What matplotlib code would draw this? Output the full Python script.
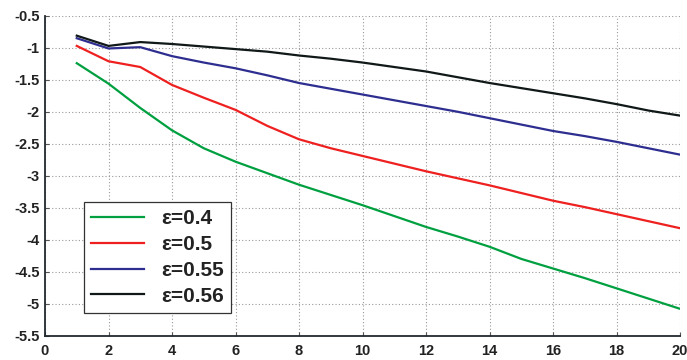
import matplotlib
matplotlib.use("Agg")
import matplotlib.pyplot as plt

x = list(range(1, 21))
eps_04 = [-1.24, -1.56, -1.94, -2.29, -2.57, -2.78, -2.96, -3.14, -3.30, -3.46,
          -3.63, -3.80, -3.95, -4.11, -4.30, -4.45, -4.60, -4.76, -4.92, -5.08]
eps_05 = [-0.97, -1.21, -1.30, -1.58, -1.78, -1.97, -2.22, -2.43, -2.57, -2.69,
          -2.81, -2.93, -3.04, -3.15, -3.27, -3.39, -3.49, -3.60, -3.71, -3.82]
eps_055 = [-0.85, -1.01, -0.99, -1.13, -1.23, -1.32, -1.43, -1.55, -1.64, -1.73,
           -1.82, -1.91, -2.00, -2.10, -2.20, -2.30, -2.38, -2.47, -2.57, -2.67]
eps_056 = [-0.81, -0.97, -0.91, -0.94, -0.98, -1.02, -1.06, -1.12, -1.17, -1.23,
           -1.30, -1.37, -1.46, -1.55, -1.63, -1.71, -1.79, -1.88, -1.98, -2.06]
labels = ["ε=0.4", "ε=0.5", "ε=0.55", "ε=0.56"]
colors = ["#00a040", "#ee2020", "#2e2e90", "#101818"]

plt.rcParams['font.family'] = ['Liberation Sans', 'DejaVu Sans']
fig = plt.figure(figsize=(6.87, 3.6), dpi=100)
ax = fig.add_axes([0.0655, 0.0675, 0.9245, 0.8885])

for ys, lab, c in zip([eps_04, eps_05, eps_055, eps_056], labels, colors):
    ax.plot(x, ys, color=c, lw=1.6, label=lab)

ax.set_xlim(0, 20)
ax.set_ylim(-5.5, -0.5)
ax.set_xticks(range(0, 21, 2))
ax.set_yticks([-5.5, -5, -4.5, -4, -3.5, -3, -2.5, -2, -1.5, -1, -0.5])
ax.set_yticklabels(["-5.5", "-5", "-4.5", "-4", "-3.5", "-3", "-2.5", "-2", "-1.5", "-1", "-0.5"])
ax.set_xticklabels([str(v) for v in range(0, 21, 2)])
for t in ax.get_xticklabels() + ax.get_yticklabels():
    t.set_fontweight('bold')
    t.set_fontsize(10.5)
    t.set_color('#222222')
ax.tick_params(direction='in', length=3, width=0.8, color='#555555')
ax.tick_params(axis='y', pad=4)
ax.tick_params(axis='x', pad=6)
ax.grid(True, linestyle=(0, (1, 2)), color='#999999', lw=0.8)
ax.spines['top'].set_visible(False)
ax.spines['right'].set_visible(False)
for s in ['left', 'bottom']:
    ax.spines[s].set_linewidth(1.3)
    ax.spines[s].set_color('#222a30')

leg = ax.legend(loc='lower left', bbox_to_anchor=(0.061, 0.071), borderaxespad=0,
                fancybox=False, framealpha=1, edgecolor='#333333',
                prop={'weight': 'bold', 'size': 15},
                handlelength=2.55, labelspacing=0.33, borderpad=0.35,
                handletextpad=0.8)
leg.get_frame().set_linewidth(0.9)
for t in leg.get_texts():
    t.set_color('#222222')

fig.savefig("out.png", dpi=100)
